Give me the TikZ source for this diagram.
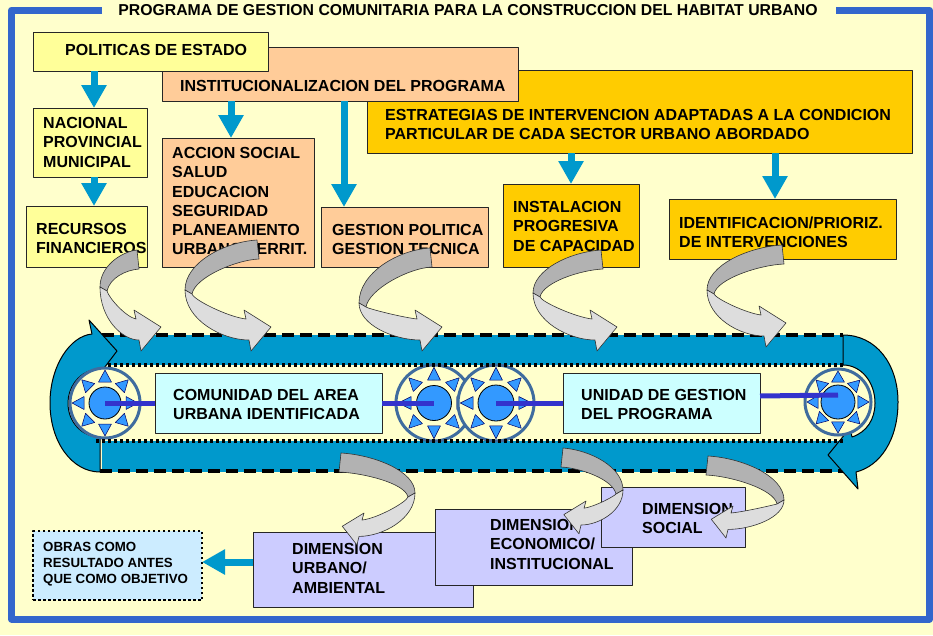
\documentclass[tikz,border=0pt]{standalone}
\usepackage{fontspec}
\setmainfont{Liberation Sans}
\usetikzlibrary{arrows.meta}
\definecolor{bgc}{HTML}{FFFFCC}
\definecolor{frameblue}{HTML}{3366CC}
\definecolor{yel}{HTML}{FFFF99}
\definecolor{peach}{HTML}{FFCC99}
\definecolor{gold}{HTML}{FFCC00}
\definecolor{aqua}{HTML}{0099CC}
\definecolor{cyanbox}{HTML}{CCFFFF}
\definecolor{lav}{HTML}{CCCCFF}
\definecolor{obrc}{HTML}{CCECFF}
\definecolor{gdark}{HTML}{B2B2B2}
\definecolor{glight}{HTML}{DDDDDD}
\definecolor{gearblue}{HTML}{3399FF}
\definecolor{ringc}{HTML}{3F6C9E}
\definecolor{purp}{HTML}{3333CC}
\tikzset{
 box/.style={draw=black!85, line width=0.8pt, anchor=north west, inner sep=0pt, outer sep=0pt},
 txt/.style={anchor=north west, inner sep=0pt, align=left, font=\bfseries\fontsize{16}{19.2}\selectfont},
 barrow/.style={draw=aqua, line width=7pt, -{Triangle[length=23pt,width=24pt]}},
 ribdark/.style={fill=gdark, draw=black!80, line width=0.6pt},
 riblight/.style={fill=glight, draw=black!80, line width=0.6pt},
 ubelt/.style={fill=aqua, draw=black, line width=1pt},
 dashline/.style={draw=black, line width=4pt, dash pattern=on 11.5pt off 6.5pt},
 dotline/.style={draw=black, line width=3.2pt, dash pattern=on 3.2pt off 2.8pt},
 pline/.style={draw=purp, line width=5pt},
 gring/.style={draw=ringc, line width=3pt},
 gtri/.style={fill=gearblue, draw=black!60!blue, line width=0.5pt},
 gcore/.style={fill=gearblue, draw=black, line width=0.8pt}
}
% gear: name, x, y, ring radius, core radius
\newcommand\mygear[5]{%
 \coordinate (#1) at (#2,#3);
 \fill[bgc] (#1) circle (#4);
 \foreach \a in {0,45,...,315}{\filldraw[gtri, shift={(#2,#3)}, rotate=\a] (0.94*#4,0) -- (0.6*#4,6.5) -- (0.6*#4,-6.5) -- cycle;}
 \filldraw[gcore] (#1) circle (#5);
 \draw[gring] (#1) circle (#4);
}
% ribbon arrow: tail x, tail y, loop width, loop depth, head x offset, head depth, mirror, head scale
\newcommand\ribbon[8]{%
\begin{scope}[shift={(#1,#2)}, xscale=#7]
\filldraw[ribdark] (0,0) .. controls (-0.45*#3,2) and (-#3,0.45*#4) .. (-#3,#4) -- (-#3+7,#4+4) .. controls (-#3+10,0.75*#4) and (-0.3*#3,20) .. (2,19) -- cycle;
\filldraw[riblight] (-#3,#4) .. controls (-#3,{#4+0.6*(#6+30*#8-#4)}) and ({#5-0.4*(#5+#3)},#6+30*#8) .. (#5+2,#6+30*#8) -- (#5+4,#6+41*#8) -- (#5+24*#8,#6+17*#8) -- (#5-3,#6) -- (#5-1,#6+9*#8) .. controls ({#5-0.3*(#5+#3)},#6+7*#8) and (-#3+9,{#4+0.35*(#6+9*#8-#4)}) .. (-#3+7,#4+4) -- cycle;
\end{scope}}
\begin{document}
\begin{tikzpicture}[x=1pt,y=-1pt,line join=round]
\useasboundingbox (0,0) rectangle (933,635);
\fill[bgc] (0,0) rectangle (933,635);
\draw[frameblue, line width=7pt] (102,10) -- (11.5,10) -- (11.5,619) -- (929.5,619) -- (929.5,10) -- (836,10);
\node[inner sep=0pt, font=\bfseries\fontsize{15.8}{18}\selectfont] (title) at (468,10) {PROGRAMA DE GESTION COMUNITARIA PARA LA CONSTRUCCION DEL HABITAT URBANO};

% top boxes
\node[box, fill=gold, minimum width=545, minimum height=83] (estr) at (367,70) {};
\node[txt] (estrt) at (385,109.3) {ESTRATEGIAS DE INTERVENCION ADAPTADAS A LA CONDICION\\PARTICULAR DE CADA SECTOR URBANO ABORDADO};
\node[box, fill=peach, minimum width=356, minimum height=54] (inst) at (162,47) {};
\node[txt] (instt) at (180,80.3) {INSTITUCIONALIZACION DEL PROGRAMA};
\node[box, fill=yel, minimum width=235, minimum height=39] (pol) at (33,32) {};
\node[txt] (polt) at (65,44) {POLITICAS DE ESTADO};
\node[box, fill=yel, minimum width=114, minimum height=69] (nac) at (33,108) {};
\node[txt] (nact) at (43,117.3) {NACIONAL\\PROVINCIAL\\MUNICIPAL};
\node[box, fill=yel, minimum width=121, minimum height=61] (rec) at (26,206) {};
\node[txt] (rect) at (36,223.3) {RECURSOS\\FINANCIEROS};
\node[box, fill=peach, minimum width=152, minimum height=129] (acc) at (162,138) {};
\node[txt] (acct) at (172,147.3) {ACCION SOCIAL\\SALUD\\EDUCACION\\SEGURIDAD\\PLANEAMIENTO\\URBANO/TERRIT.};
\node[box, fill=peach, minimum width=167, minimum height=60] (gest) at (321,207) {};
\node[txt] (gestt) at (332,224.3) {GESTION POLITICA\\GESTION TECNICA};
\node[box, fill=gold, minimum width=136, minimum height=83] (prog) at (503,184) {};
\node[txt] (progt) at (513,201.3) {INSTALACION\\PROGRESIVA\\DE CAPACIDAD};
\node[box, fill=gold, minimum width=227, minimum height=60] (ident) at (669,199) {};
\node[txt] (identt) at (679,216.3) {IDENTIFICACION/PRIORIZ.\\DE INTERVENCIONES};

% blue arrows
\coordinate (ax1) at (94,0);
\coordinate (ax2) at (231,0);
\coordinate (ax3) at (344,0);
\coordinate (ax4) at (571,0);
\coordinate (ax5) at (775,0);
\draw[barrow] (pol.south -| ax1) -- (nac.north -| ax1);
\draw[barrow] (nac.south -| ax1) -- (rec.north -| ax1);
\draw[barrow] (inst.south -| ax2) -- (acc.north -| ax2);
\draw[barrow] (inst.south -| ax3) -- (gest.north -| ax3);
\draw[barrow] (estr.south -| ax4) -- (prog.north -| ax4);
\draw[barrow] (estr.south -| ax5) -- (ident.north -| ax5);

% conveyor belt
\fill[aqua] (102,335) rectangle (843,472);
\fill[bgc] (102,365) rectangle (843,441);
\draw[dashline] (102,335) -- (843,335);
\draw[dashline] (100,471) -- (850,471);
\filldraw[ubelt] (100,472) .. controls (72,472) and (50,442) .. (50,403) .. controls (50,366) and (70,336) .. (92,334) -- (89,320) -- (117,351) -- (95,380) -- (93,370) .. controls (78,373) and (68,388) .. (68,403) .. controls (68,422) and (82,437) .. (100,437) -- cycle;
\filldraw[ubelt] (843,335) .. controls (876,335) and (898,364) .. (898,402) .. controls (898,440) and (880,466) .. (856,472) -- (858,489) -- (828,455) -- (850,428) -- (852,437) .. controls (867,432) and (875,419) .. (875,403) .. controls (875,382) and (861,365) .. (843,365) -- cycle;
\mygear{g1}{105}{403}{35}{16}
\mygear{g2}{434}{403}{38}{17.5}
\mygear{g3}{496}{403}{38}{18}
\mygear{g4}{838}{402}{33}{17}
\draw[dotline] (108,365) -- (843,365);
\draw[dotline] (96,441) -- (843,441);
\node[box, fill=cyanbox, minimum width=227, minimum height=60] (com) at (155,373) {};
\node[txt] (comt) at (173,389.3) {COMUNIDAD DEL AREA\\URBANA IDENTIFICADA};
\node[box, fill=cyanbox, minimum width=197, minimum height=60] (uni) at (563,373) {};
\node[txt] (unit) at (581,389.3) {UNIDAD DE GESTION\\DEL PROGRAMA};
\draw[pline] (g1) -- (com.west);
\draw[pline] (com.east) -- (g2);
\draw[pline] (g3) -- (uni.west);
\draw[pline] ([yshift=7pt]uni.east) -- ([yshift=7pt]g4);

% lower boxes
\node[box, fill=lav, minimum width=220, minimum height=75] (urb) at (253,532) {};
\node[txt] (urbt) at (292,543.3) {DIMENSION\\URBANO/\\AMBIENTAL};
\node[box, fill=lav, minimum width=197, minimum height=76] (eco) at (435,509) {};
\node[txt] (ecot) at (490,519.3) {DIMENSION\\ECONOMICO/\\INSTITUCIONAL};
\node[box, fill=lav, minimum width=144, minimum height=60] (soc) at (601,487) {};
\node[txt] (soct) at (642,503.3) {DIMENSION\\SOCIAL};
\node[box, fill=obrc, draw=black, line width=2.5pt, dash pattern=on 2.5pt off 2.5pt, minimum width=169, minimum height=69] (obr) at (33,531) {};
\node[txt, font=\bfseries\fontsize{13.3}{16}\selectfont] (obrt) at (43,542.2) {OBRAS COMO\\RESULTADO ANTES\\QUE COMO OBJETIVO};
\coordinate (ay6) at (0,562);
\draw[barrow] (urb.west |- ay6) -- (obr.east |- ay6);

% ribbon arrows
\ribbon{137}{250}{37}{37}{0}{60}{1}{1}
\ribbon{257}{240}{72}{50}{-10}{70}{1}{1}
\ribbon{430}{248}{71}{55}{-12}{62}{1}{1}
\ribbon{601}{250}{68}{43}{-8}{60}{1}{1}
\ribbon{782}{245}{75}{45}{-20}{61}{1}{1}
\ribbon{341}{453}{74}{40}{-20}{60}{-1}{0.78}
\ribbon{563}{448}{60}{42}{-20}{53}{-1}{0.8}
\ribbon{708}{456}{76}{44}{-22}{50}{-1}{0.78}
\end{tikzpicture}
\end{document}
